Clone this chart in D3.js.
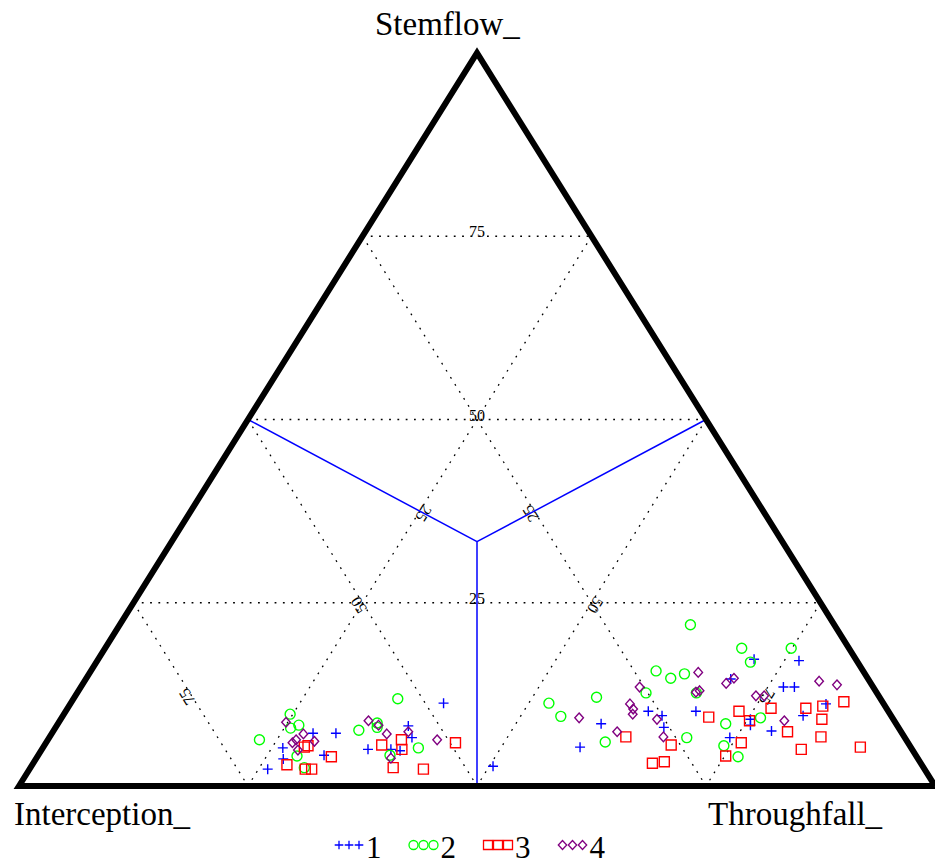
<!DOCTYPE html>
<html>
<head>
<meta charset="utf-8">
<script src="https://cdn.jsdelivr.net/npm/d3@7/dist/d3.min.js"></script>
<style>
  html, body { margin: 0; padding: 0; background: #fff; }
  svg { display: block; }
  text { font-family: "Liberation Serif", "Times New Roman", serif; fill: #000; }
</style>
</head>
<body>
<svg id="chart" width="935" height="865"></svg>
<script>
// Each sample: [Interception, Stemflow, Throughfall] in percent
const series1 = [
  [64.3,7.2,28.5],[61.8,7.2,31.0],[68.6,5.2,26.2],[69.3,3.7,27.0],[71.7,2.3,26.0],
  [64.6,4.2,31.2],[59.4,5.0,35.6],[56.9,5.0,38.1],[53.4,8.2,38.4],[53.8,6.6,39.6],
  [56.0,4.8,39.2],[48.0,11.3,40.7],[46.9,2.7,50.4],[26.2,10.2,63.6],[25.0,9.6,65.4],
  [25.6,8.0,66.4],[32.2,8.5,59.3],[36.1,5.3,58.6],[21.0,10.2,68.8],[15.0,14.6,70.4],
  [19.1,6.6,74.3],[11.1,17.3,71.6],[6.3,17.1,76.6],[9.8,13.5,76.7],[8.6,13.5,77.9],
  [6.3,11.2,82.5],[15.6,9.1,75.3],[16.0,8.3,75.7],[9.6,9.6,80.8],[14.1,7.5,78.4]
];
const series2 = [
  [65.5,9.8,24.7],[65.3,8.3,26.4],[66.4,7.9,25.7],[70.6,6.3,23.1],[67.6,4.1,28.3],
  [67.6,2.5,29.9],[52.7,11.9,35.4],[59.1,7.6,33.3],[56.6,8.6,34.8],[56.9,8.0,35.1],
  [57.4,4.2,38.4],[53.8,5.2,41.0],[15.7,22.0,62.3],[11.7,18.8,69.5],[11.7,16.9,71.4],
  [22.6,15.7,61.7],[21.5,14.7,63.8],[19.7,15.3,65.0],[25.2,12.7,62.1],[30.9,12.1,57.0],
  [36.5,11.3,52.2],[36.1,9.5,54.4],[33.0,6.0,61.0],[23.8,6.6,69.6],[19.7,12.7,67.6],
  [18.6,8.5,72.9],[20.3,5.5,74.2],[19.5,4.0,76.5],[6.3,18.8,74.9],[14.4,9.3,76.3]
];
const series3 = [
  [66.2,5.3,28.5],[65.7,5.5,28.8],[69.3,2.9,27.8],[63.9,4.0,32.1],[67.6,2.3,30.1],
  [66.9,2.3,30.8],[57.6,5.6,36.8],[55.1,6.3,38.6],[55.7,5.0,39.3],[57.9,2.5,39.6],
  [54.7,2.3,43.0],[49.4,5.9,44.7],[30.4,6.7,62.9],[26.0,5.6,68.4],[29.3,3.1,67.6],
  [27.9,3.3,68.8],[20.0,9.4,70.6],[16.3,10.2,73.5],[18.2,5.9,75.9],[20.8,4.1,75.1],
  [15.8,8.9,75.3],[12.6,10.6,76.8],[8.8,10.6,80.6],[6.8,10.9,82.3],[4.2,11.5,84.3],
  [7.8,9.1,83.1],[12.4,7.4,80.2],[9.1,6.7,84.2],[12.1,5.0,82.9],[5.5,5.3,89.2]
];
const series4 = [
  [66.5,8.7,24.8],[65.4,7.1,27.5],[64.7,6.1,29.2],[66.6,6.3,27.1],[67.2,5.9,26.9],
  [67.1,4.9,28.0],[57.4,8.9,33.7],[56.6,8.3,35.1],[56.3,7.1,36.6],[53.8,7.4,38.8],
  [57.5,3.8,38.7],[51.2,6.3,42.5],[18.1,15.5,66.4],[25.5,13.5,61.0],[27.7,11.2,61.1],
  [27.7,10.5,61.8],[28.1,9.8,62.1],[34.2,9.3,56.5],[25.8,9.1,65.1],[31.0,7.4,61.6],
  [26.3,6.7,67.0],[19.7,12.8,67.5],[19.2,13.0,67.8],[15.8,14.0,70.2],[14.6,14.7,70.7],
  [5.5,14.3,80.2],[3.8,13.8,82.4],[13.4,12.3,74.3],[12.5,12.3,75.2],[12.0,8.9,79.1]
];

const seriesNames = ["1", "2", "3", "4"];
const seriesColors = ["#0000ff", "#00ff00", "#ff0000", "#800080"];
const seriesShapes = ["plus", "circle", "square", "diamond"];
const axisNames = ["Interception_", "Stemflow_", "Throughfall_"];
const gridValues = [25, 50, 75];

const svg = d3.select("#chart");

// Base position = Throughfall + Stemflow/2, height = Stemflow
const xScale = d3.scaleLinear().domain([0, 100]).range([19, 935]);
const yScale = d3.scaleLinear().domain([0, 100]).range([786, 53]);

function project(p) {
  const sum = p[0] + p[1] + p[2];
  const s = p[1] / sum * 100, t = p[2] / sum * 100;
  return [xScale(t + s / 2), yScale(s)];
}

const line = d3.line();

// Dotted grid lines for the three components
const gridLayer = svg.append("g");
const gridSegs = [];
gridValues.forEach(k => {
  gridSegs.push({ axis: "S", k, a: [100 - k, k, 0], b: [0, k, 100 - k] });
  gridSegs.push({ axis: "I", k, a: [k, 100 - k, 0], b: [k, 0, 100 - k] });
  gridSegs.push({ axis: "T", k, a: [0, 100 - k, k], b: [100 - k, 0, k] });
});
gridLayer.selectAll("path").data(gridSegs).join("path")
  .attr("d", d => line([project(d.a), project(d.b)]))
  .attr("fill", "none")
  .attr("stroke", "#000")
  .attr("stroke-width", 1.3)
  .attr("stroke-dasharray", "1.8 6.5");

// Grid labels at the middle of each segment, written along it
gridLayer.selectAll("text").data(gridSegs).join("text")
  .attr("transform", d => {
    const pa = project(d.a), pb = project(d.b);
    const mx = (pa[0] + pb[0]) / 2, my = (pa[1] + pb[1]) / 2;
    let ang = 0;
    if (d.axis === "I") ang = Math.atan2(pa[1] - pb[1], pa[0] - pb[0]) * 180 / Math.PI;
    if (d.axis === "T") ang = Math.atan2(pb[1] - pa[1], pb[0] - pa[0]) * 180 / Math.PI;
    return `translate(${mx},${my}) rotate(${ang})`;
  })
  .attr("text-anchor", "middle")
  .attr("dy", 1)
  .style("font-size", "16px")
  .text(d => d.k);

// Lines from the centre point to the mid-point of each side
const centre = [100 / 3, 100 / 3, 100 / 3];
const sideMids = [[50, 50, 0], [0, 50, 50], [50, 0, 50]];
svg.append("g").selectAll("path").data(sideMids).join("path")
  .attr("d", m => line([project(centre), project(m)]))
  .attr("fill", "none")
  .attr("stroke", "#0000ff")
  .attr("stroke-width", 1.5);

// Triangle frame
const corners = [[100, 0, 0], [0, 100, 0], [0, 0, 100]];
svg.append("path")
  .attr("d", line(corners.map(project)) + "Z")
  .attr("fill", "none")
  .attr("stroke", "#000")
  .attr("stroke-width", 6)
  .attr("stroke-linejoin", "miter")
  .attr("stroke-miterlimit", 10);

// Marker shapes
const shapePath = {
  plus: "M-5,0H5M0,-5V5",
  circle: "M5,0A5,5 0 1,1 -5,0A5,5 0 1,1 5,0Z",
  square: "M-5,-5H5V5H-5Z",
  diamond: "M0,-4.8L4.3,0L0,4.8L-4.3,0Z"
};
const shapePathSmall = {
  plus: "M-4.3,0H4.3M0,-4.3V4.3",
  circle: "M4.5,0A4.5,4.5 0 1,1 -4.5,0A4.5,4.5 0 1,1 4.5,0Z",
  square: "M-4.5,-4.5H4.5V4.5H-4.5Z",
  diamond: "M0,-4.5L4.2,0L0,4.5L-4.2,0Z"
};

const allSeries = [series1, series2, series3, series4];
allSeries.forEach((data, si) => {
  svg.append("g").selectAll("path").data(data).join("path")
    .attr("transform", d => { const p = project(d); return `translate(${p[0]},${p[1]})`; })
    .attr("d", shapePath[seriesShapes[si]])
    .attr("fill", "none")
    .attr("stroke", seriesColors[si])
    .attr("stroke-width", 1.4);
});

// Corner titles
svg.append("text").attr("x", 375).attr("y", 35).style("font-size", "33px").text(axisNames[1]);
svg.append("text").attr("x", 14).attr("y", 825).style("font-size", "33px").text(axisNames[0]);
svg.append("text").attr("x", 708).attr("y", 825).style("font-size", "33px").text(axisNames[2]);

// Legend
const legend = svg.append("g");
seriesNames.forEach((name, si) => {
  const gx = 339 + si * 74.5;
  const g = legend.append("g").attr("transform", `translate(${gx},845)`);
  [0, 1, 2].forEach(j => {
    g.append("path")
      .attr("transform", `translate(${j * 10},0)`)
      .attr("d", shapePathSmall[seriesShapes[si]])
      .attr("fill", "none")
      .attr("stroke", seriesColors[si])
      .attr("stroke-width", 1.3);
  });
  g.append("text").attr("x", 27).attr("y", 13).style("font-size", "31px").text(name);
});
</script>
</body>
</html>
